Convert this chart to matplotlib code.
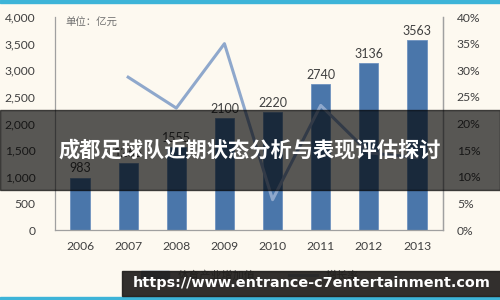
import matplotlib
matplotlib.use("Agg")
import matplotlib.pyplot as plt
from matplotlib.patches import Rectangle
from matplotlib.lines import Line2D

plt.rcParams['font.family'] = ['Lato', 'Noto Sans CJK SC', 'DejaVu Sans']

years = ['2006', '2007', '2008', '2009', '2010', '2011', '2012', '2013']
values = [983, 1265, 1555, 2100, 2220, 2740, 3136, 3563]
growth = [None, 28.7, 22.9, 35.0, 5.7, 23.4, 14.5, 13.6]
left_ticks = [0, 500, 1000, 1500, 2000, 2500, 3000, 3500, 4000]
right_ticks = [0, 5, 10, 15, 20, 25, 30, 35, 40]
title = '成都足球队近期状态分析与表现评估探讨'
unit_label = '单位：亿元'
legend_labels = ['体育产业增加值', '增长率']
watermark = 'https://www.entrance-c7entertainment.com'

bg = '#fdf9f0'
bar_color = '#4a76aa'
line_color = '#8fa8cc'
txt = '#404040'

fig = plt.figure(figsize=(5, 3), dpi=100, facecolor=bg)
ax = fig.add_axes([0.11, 0.2333, 0.776, 0.71])
ax.set_facecolor(bg)
x = list(range(len(years)))
ax.bar(x, values, width=0.4, color=bar_color, edgecolor='#6f93c0', linewidth=0.6, zorder=2)
for xi, v in zip(x, values):
    ax.text(xi, v + 60, str(v), ha='center', va='bottom', fontsize=9, color=txt)
ax.set_xlim(-0.52, 7.54)
ax.set_ylim(0, 4000)
ax.set_yticks(left_ticks)
ax.set_yticklabels([f'{t:,}' for t in left_ticks])
ax.set_xticks(x)
ax.set_xticklabels(years)
ax.tick_params(length=0, labelsize=8.7, colors=txt, pad=8)
ax.tick_params(axis='y', pad=14)
ax.spines['top'].set_visible(False)
for s in ['left', 'right', 'bottom']:
    ax.spines[s].set_color('#a0a0a0')
    ax.spines[s].set_linewidth(0.9)

ax2 = ax.twinx()
gx = [xi for xi, g in zip(x, growth) if g is not None]
gy = [g for g in growth if g is not None]
ax2.plot(gx, gy, color=line_color, linewidth=2.2, zorder=3)
ax2.set_ylim(0, 40)
ax2.set_yticks(right_ticks)
ax2.set_yticklabels([f'{t}%' for t in right_ticks])
ax2.tick_params(length=0, labelsize=8.7, colors=txt, pad=10)
for s in ['top', 'left', 'bottom']:
    ax2.spines[s].set_visible(False)
ax2.spines['right'].set_color('#a0a0a0')
ax2.spines['right'].set_linewidth(0.9)

fig.text(0.13, 0.925, unit_label, fontsize=7.5, color='#707070', ha='left', va='center')

handles = [Rectangle((0, 0), 1, 1, color=bar_color),
           Line2D([0], [0], color=line_color, linewidth=2.2)]
fig.legend(handles, legend_labels, loc='center', bbox_to_anchor=(0.5, 0.083),
           ncol=2, frameon=False, fontsize=8, labelcolor=txt, columnspacing=3,
           handlelength=2.5)

# top & bottom cyan lines
fig.add_artist(Rectangle((0, 0.99), 1, 0.01, transform=fig.transFigure, color='#3db4d8', zorder=10))
fig.add_artist(Rectangle((0, 0.0), 1, 0.01, transform=fig.transFigure, color='#3db4d8', zorder=10))

# title overlay band
fig.add_artist(Rectangle((0, (300 - 190) / 300), 1, 80 / 300,
                         transform=fig.transFigure, color='black', alpha=0.65, zorder=20))
fig.text(0.5, 0.5, title, ha='center', va='center', fontsize=15.3, color='white',
         fontweight='bold', family=['Noto Sans CJK SC', 'DejaVu Sans'], zorder=21)

# watermark band
fig.add_artist(Rectangle((122 / 500, 4 / 300), 1, 25 / 300,
                         transform=fig.transFigure, color='#201e1c', alpha=0.92, zorder=20))
fig.text(0.623, 0.055, watermark, ha='center', va='center', fontsize=10.4, color='white',
         fontweight='bold', family=['DejaVu Sans'], zorder=21)

fig.savefig('out.png', dpi=100, facecolor=bg)
